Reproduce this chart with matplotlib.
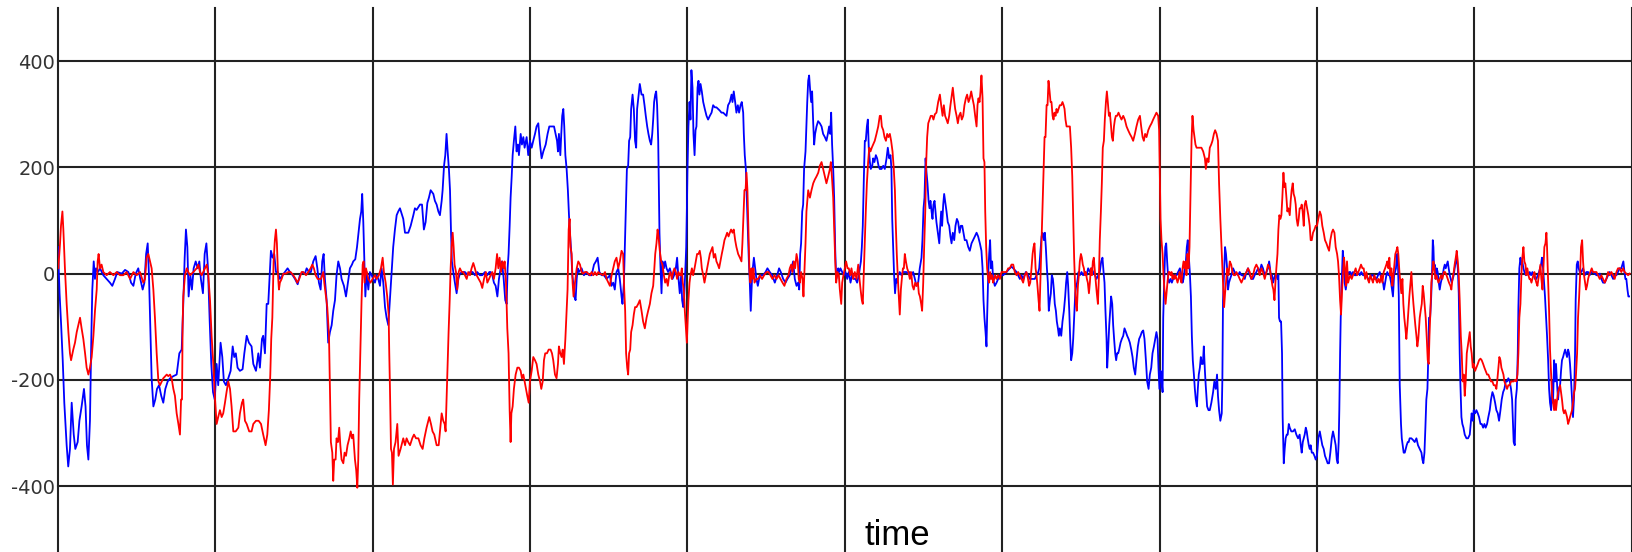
import matplotlib
matplotlib.use("Agg")
import matplotlib.pyplot as plt
import numpy as np

# (time, value) samples, one row group per grid cell
blue_pts = [
    (0, 50), (1, -37), (2, -97), (3, -163), (4, -243), (5.5, -323), (6.5, -363), (7.6, -330), (8.7, -243),
    (10, -303), (11, -330), (12.5, -317), (13.6, -277), (15, -250), (16.5, -217), (17.5, -250), (18.4, -323),
    (19.3, -350), (20.3, -277), (21.2, -117), (21.8, -30), (22.7, 23), (23.5, -10), (24.2, 10), (25.4, 3),
    (26.7, 10), (28.8, -3), (30.9, -10), (33, -17), (34.5, -23), (36.2, -10), (37.7, 3), (40.5, 0), (42.6, 7),
    (44.7, 3), (46.4, -17), (47.9, -23), (49.4, 0), (51, 10), (52.3, -10), (53.8, -30), (54.9, -17), (56, 37),
    (57, 57), (57.8, -3), (58.7, -110), (59.5, -197), (60.6, -250), (61.8, -237), (62.9, -217), (64.2, -210),
    (65.6, -230), (66.9, -243), (68.2, -217), (69.7, -203), (71.2, -197), (73.3, -193), (75.4, -190),
    (77.1, -150), (78.6, -143), (79.6, -57), (80.5, 30), (81.3, 83), (82.2, 50), (83, -43), (84.1, -3),
    (85.1, -30), (86.2, 10), (87.5, 23), (88.8, 10), (89.8, 23), (90.8, -10), (92.1, -37), (93.2, 37),
    (94.3, 57), (95.3, 10), (96.4, -90), (97.4, -170), (98.5, -223), (99.6, -237),
    (100.8, -170), (101.8, -210), (103.3, -130), (104.4, -157), (105.4, -203), (106.7, -210), (108.2, -197),
    (109.7, -183), (111, -137), (112, -157), (113, -150), (114.1, -177), (115.6, -183), (117.3, -180),
    (118.4, -150), (119.9, -117), (121.3, -130), (123, -137), (124.1, -170), (125.8, -183), (127.3, -150),
    (128.3, -177), (129.6, -123), (130.4, -117), (131.5, -150), (132.6, -57), (133.6, -57), (134.7, 10),
    (135.3, 43), (136.4, 30), (137.4, 37), (138.5, 3), (139.6, 3), (141, -10), (142.7, -3), (144.2, 3),
    (145.9, 10), (147.4, 3), (149.1, -3), (150.6, -10), (152.3, -20), (153.7, -3), (155.4, 3), (156.9, 0),
    (158, 10), (159.5, 3), (160.7, 3), (162.2, 23), (163.7, 33), (164.8, 10), (165.8, -17), (166.9, -30),
    (167.9, 23), (168.8, 37), (169.6, -10), (170.7, -50), (171.7, -130), (172.8, -110), (173.9, -97),
    (174.9, -70), (176, -50), (177, -3), (178.1, 23), (179.2, 10), (180.2, -10), (181.7, -23), (183, -43),
    (184.2, -17), (185.5, 10), (186.8, 17), (187.6, 23), (188.9, 27), (190, 50), (191, 77), (191.9, 103),
    (192.7, 117), (193.3, 150), (194, 97), (194.6, 30), (195.3, -43), (196.1, 3), (197.2, -30), (198.2, 3),
    (199.3, -3),
    (200.3, -10), (201.4, -17), (202.5, -3), (203.5, -10), (204.6, -23), (205.6, 10), (206.7, -17),
    (207.8, -63), (208.8, -83), (209.9, -97), (210.9, -50), (212, 3), (213, 50), (214.1, 83), (215.2, 110),
    (216.2, 117), (217.3, 123), (219.4, 103), (220.5, 77), (222.6, 77), (224.1, 90), (225.8, 110),
    (226.8, 123), (227.9, 120), (230, 130), (231.3, 130), (232.5, 83), (233.6, 97), (234.7, 133),
    (235.7, 143), (236.8, 157), (238.5, 150), (239.5, 137), (240.6, 130), (241.7, 117), (242.7, 110),
    (243.8, 137), (244.4, 157), (245.3, 203), (246.1, 223), (246.9, 263), (247.6, 230), (248.4, 197),
    (249.1, 157), (249.7, 83), (250.3, 23), (251.2, 3), (252.2, -17), (253.3, -37), (254.4, -10), (255.4, 0),
    (256.9, 3), (258.6, 3), (260.3, -3), (261.8, 3), (263.5, 3), (264.9, -3), (266.4, 3), (268.1, -3),
    (269.6, -3), (271.3, 3), (272.8, -3), (274.1, 3), (274.9, 3), (276, -3), (277, -17), (278.1, -23),
    (279.2, -43), (280.2, -10), (281.3, 10), (282.1, 23), (283.2, -10), (284.2, -50), (285.1, -57),
    (285.7, 10), (286.3, 37), (287, 90), (287.6, 143), (288.3, 183), (288.9, 223), (289.7, 250), (290.6, 277),
    (291.4, 230), (292.3, 243), (292.9, 223), (294, 263), (294.8, 243), (295.7, 257), (296.5, 237),
    (297.8, 257), (298.8, 223),
    (299.9, 250), (301, 237), (302, 250), (303.1, 263), (304.1, 277), (305.2, 283), (306.3, 243), (307.3, 217),
    (308.4, 230), (309.9, 243), (311.1, 263), (312.2, 277), (313.7, 277), (315.2, 277), (316.2, 263),
    (317.1, 250), (317.7, 230), (318.3, 263), (319.2, 223), (319.8, 263), (320.4, 297), (321.1, 310),
    (321.7, 277), (322.4, 223), (323.2, 197), (324, 157), (324.7, 110), (325.3, 77), (326.2, 37), (326.8, -3),
    (327.4, -17), (328.1, -43), (328.9, -50), (329.6, -10), (330.2, 10), (331, 3), (332.7, 10), (334.2, -3),
    (335.9, 3), (337.4, -3), (339.1, -3), (340.6, 17), (341.8, 23), (342.9, 30), (344, 3), (345.4, -3),
    (346.9, -3), (348.6, -10), (350.7, -3), (351.7, -23), (352.8, -17), (353.8, -30), (354.9, 3), (356, 10),
    (357, -10), (358.1, -43), (358.7, -57), (359.6, -17), (360.2, 50), (360.8, 117), (361.5, 197),
    (362.3, 203), (362.9, 250), (363.6, 257), (364.2, 310), (365.1, 337), (365.9, 310), (366.7, 250),
    (367.4, 237), (368, 310), (368.7, 330), (369.7, 357), (370.8, 337), (371.8, 337), (372.7, 317),
    (373.5, 297), (374.4, 277), (375.2, 263), (376.1, 250), (376.9, 243), (377.6, 263), (378.2, 290),
    (378.8, 323), (379.5, 337), (380.1, 343), (380.7, 317), (381.4, 250), (381.8, 163), (382.2, 77),
    (382.8, 17), (383.5, -37), (384.1, 23), (385, 10), (385.8, 23), (386.7, 10), (387.7, 3), (388.8, 10),
    (389.4, 3), (390.5, -10), (391.5, -3), (392.6, 10), (393.4, 30), (394.3, -10), (395.1, -37), (396, -3),
    (396.6, -50), (397.3, -63), (397.9, -43), (398.5, -3), (399.2, 50), (399.6, 117),
    (400, 197), (400.6, 277), (401.3, 323), (401.9, 290), (402.5, 383), (403.2, 350), (403.8, 263),
    (404.5, 223), (405.1, 270), (405.7, 277), (406.4, 350), (407, 363), (407.6, 337), (408.3, 357),
    (409.1, 343), (410, 323), (411, 310), (412.1, 297), (413.1, 290), (414.2, 297), (415.3, 303), (416.3, 317),
    (417.4, 313), (418.4, 313), (419.5, 310), (420.5, 307), (421.6, 303), (422.7, 303), (423.7, 300),
    (424.8, 297), (425.8, 317), (426.9, 323), (428, 337), (428.6, 323), (429.4, 343), (430.3, 323),
    (431.1, 303), (432, 317), (432.8, 303), (433.7, 317), (434.5, 323), (435.4, 303), (435.8, 263),
    (436.4, 223), (437.1, 197), (437.7, 143), (438.3, 83), (439, 23), (439.6, -17), (440.2, -70), (440.9, -17),
    (441.5, 10), (442.2, 30), (443, 10), (443.8, -10), (444.7, -23), (445.5, -10), (446.6, -3), (448.1, -3),
    (449.6, 3), (450.8, 10), (452.3, 3), (453.8, -3), (455.5, -17), (457, -3), (458.2, 10), (459.3, 3),
    (460.8, -10), (462.3, -17), (463.5, -10), (465, -3), (466.1, 10), (467.1, 23), (468.2, -10), (469.3, -23),
    (470.3, -17), (471, -30), (471.6, 37), (472.2, 57), (472.9, 117), (473.5, 130), (474.1, 197), (475, 230),
    (476.1, 323), (476.7, 363), (477.3, 373), (478, 343), (478.6, 323), (479.2, 343), (479.9, 283),
    (480.5, 243), (481.1, 263), (482, 277), (483, 287), (484.1, 283), (485.2, 277), (486.2, 263), (487.3, 257),
    (488.3, 250), (489.2, 263), (490, 277), (490.7, 263), (491.3, 303), (491.9, 243), (492.6, 197),
    (493.2, 143), (493.9, 43), (494.5, -10), (495.1, -3), (495.8, 10), (496.4, 3), (497.2, 10), (498.3, 3),
    (499.4, -3),
    (500.4, 3), (501.5, -10), (502.5, 3), (503.6, -17), (504.6, -3), (505.7, -10), (506.8, -10), (507.8, -17),
    (508.9, -3), (509.5, 10), (510.2, 23), (510.8, 50), (511.4, 90), (512.1, 183), (512.7, 250), (513.3, 250),
    (514, 277), (514.6, 290), (515.2, 237), (515.9, 210), (516.5, 197), (517.4, 203), (518, 217),
    (518.8, 210), (519.7, 223), (520.5, 217), (521.4, 203), (522.2, 197), (523.3, 197), (524.4, 203),
    (525.4, 197), (526.5, 217), (527.3, 237), (528.2, 217), (529, 223), (529.6, 197), (530.1, 103),
    (530.7, 50), (531.3, -3), (531.9, -37), (532.6, -10), (533.2, -17), (533.9, -3), (534.9, 3), (536, -3),
    (537, 3), (538.1, 3), (539.2, 3), (540.2, 0), (541.3, 3), (542.4, -3), (543.4, 3), (544.5, -10),
    (545.5, -23), (546.6, -17), (547.6, 10), (548.7, 30), (549.3, 63), (550, 123), (550.6, 143), (551.3, 217),
    (551.9, 190), (552.5, 170), (553.2, 137), (553.8, 123), (554.4, 137), (555.1, 117), (555.7, 103),
    (556.3, 130), (557, 137), (557.6, 117), (558.2, 97), (559.1, 77), (560, 57), (560.6, 90), (561.2, 117),
    (561.8, 90), (562.5, 130), (563.1, 150), (563.7, 137), (564.6, 117), (565.4, 97), (566.3, 90), (567.1, 70),
    (567.8, 57), (568.6, 77), (569.5, 63), (570.3, 90), (571.2, 103), (572, 97), (572.9, 77), (573.7, 90),
    (574.6, 90), (575.4, 77), (576.2, 63), (577.3, 63), (578.4, 50), (579.4, 43), (580.5, 57), (581.5, 63),
    (582.6, 70), (583.7, 77), (584.7, 70), (585.8, 57), (586.8, 43), (587.5, 10), (588.1, -50), (588.7, -83),
    (589.4, -110), (590, -137), (590.4, -83), (591.1, -3), (591.7, 37), (592.3, 63), (592.9, 10), (593.6, 23),
    (594.2, -10), (595.3, -23), (596.4, -17), (597.4, -10), (598.5, -3),
    (600.6, -3), (602.7, 3), (604.8, 10), (605.9, 13), (607, 10), (609.1, 3), (610.1, -3), (611.2, -10),
    (612.3, -3), (613.3, -10), (615, 3), (616.5, -3), (617.6, -10), (618.6, -10), (619.7, -10), (620.7, -10),
    (621.8, -3), (622.9, 3), (623.5, 10), (624.3, 43), (625, 70), (625.6, 77), (626.5, 63), (627.1, 77),
    (627.7, 50), (628.4, 10), (629, -17), (629.6, -70), (630.3, -50), (630.9, -37), (631.5, -3), (632.2, -10),
    (632.8, -30), (633.4, -57), (634.1, -70), (634.7, -90), (635.4, -103), (636, -117), (636.6, -103),
    (637.5, -117), (638.3, -90), (639.2, -70), (640, -43), (640.6, -17), (641.3, 3), (641.9, -23),
    (642.6, -70), (643.2, -123), (643.8, -163), (644.5, -150), (645.1, -123), (645.7, -83), (646.4, -37),
    (647, -23), (647.6, -17), (648.5, 3), (649.3, -3), (650.4, 3), (651.4, -3), (652.5, 3), (653.6, -3),
    (654.6, 10), (655.7, 3), (656.7, 10), (657.8, 3), (658.9, -3), (659.9, -10), (661, -3), (662, 3),
    (662.9, 23), (663.7, 30), (664.4, 3), (665, -17), (665.6, -70), (666.3, -123), (666.7, -177),
    (667.3, -143), (668, -97), (668.6, -70), (669.2, -43), (669.9, -57), (670.5, -97), (671.1, -123),
    (671.8, -150), (672.4, -163), (673, -150), (673.7, -150), (674.3, -143), (675.2, -130), (676, -123),
    (676.9, -117), (677.7, -103), (678.6, -110), (679.4, -117), (680.3, -123), (681.1, -130), (682, -143),
    (682.8, -157), (683.6, -177), (684.5, -190), (685.3, -163), (686.2, -137), (687, -123), (687.9, -117),
    (688.7, -110), (689.6, -107), (690.4, -123), (691.3, -163), (692.1, -203), (693, -217), (693.8, -190),
    (694.7, -177), (695.5, -150), (696.4, -137), (697.2, -123), (698, -110), (698.7, -123), (699.3, -177),
    (699.9, -217),
    (700.6, -183), (701.2, -197), (701.9, -223), (702.3, -83), (702.9, -17), (703.6, 50), (704.2, 57),
    (704.8, 23), (705.5, -10), (706.1, -17), (707, -10), (707.8, -17), (708.6, -10), (709.7, -3), (710.8, -3),
    (711.8, 3), (712.9, 10), (713.9, -3), (714.6, -17), (715.2, -10), (716, 10), (716.7, 23), (717.3, 50),
    (717.9, 63), (718.6, 30), (719.2, 3), (719.9, -43), (720.5, -117), (721.1, -163), (721.8, -190),
    (722.4, -217), (723, -237), (723.7, -250), (724.3, -217), (724.9, -190), (725.6, -177), (726.2, -157),
    (726.8, -170), (727.5, -170), (728.1, -137), (728.8, -183), (729.3, -210), (730.2, -250), (731.1, -257),
    (731.9, -257), (732.9, -243), (734, -223), (734.8, -203), (735.7, -217), (736.5, -190), (737.1, -230),
    (737.8, -257), (738.6, -277), (739.5, -263), (739.9, -197), (740.3, -50), (741, 3), (741.6, 50),
    (742.2, 37), (742.9, 10), (743.5, -30), (744.1, -17), (744.8, -10), (745.6, -3), (746.7, 10), (747.7, 3),
    (748.8, 0), (749.9, -3), (750.9, 3), (752, -3), (753, -3), (754.1, -10), (755.2, 3), (756.2, 10),
    (757.3, -3), (758.3, -10), (759.4, -10), (760.4, -3), (761.5, 3), (762.6, 10), (763.6, 3), (764.7, 17),
    (765.7, 10), (766.8, -3), (767.9, 3), (768.9, 10), (769.6, 23), (770.2, 10), (770.8, -10), (771.5, -3),
    (772.1, -17), (772.7, -10), (773.4, -3), (774.2, -3), (774.9, -10), (775.5, -3), (775.9, -83),
    (776.5, -90), (777.2, -90), (777.8, -150), (778.2, -270), (778.9, -357), (779.5, -330), (780.1, -310),
    (780.8, -303), (781.4, -303), (782.1, -283), (782.7, -290), (783.7, -297), (784.8, -297), (785.9, -293),
    (786.9, -303), (788, -310), (789, -303), (789.7, -323), (790.3, -337), (791, -317), (791.6, -310),
    (792.2, -303), (792.9, -290), (793.5, -297), (794.1, -310), (794.8, -323), (795.4, -330), (796, -323),
    (796.7, -337), (797.5, -337), (798.4, -343), (799.2, -350),
    (800, -343), (800.9, -310), (801.8, -297), (802.6, -310), (803.4, -323), (804.3, -330), (805.1, -343),
    (806, -350), (806.8, -357), (807.7, -357), (808.5, -337), (809.4, -310), (810.2, -297), (811.1, -310),
    (811.9, -323), (812.6, -350), (813.2, -357), (813.8, -317), (814.2, -257), (814.7, -150), (815.1, -83),
    (815.5, -37), (816, 10), (816.4, 43), (817, 23), (817.6, -17), (818.3, -30), (818.9, -17), (819.5, -3),
    (820.4, 3), (821.2, 3), (822.1, -3), (822.9, 3), (824, -3), (825.1, -3), (826.1, 3), (827.2, -3),
    (828.2, 3), (829.3, -3), (830.3, -3), (831.4, -3), (832.5, -10), (833.5, -10), (834.6, -3), (835.6, -3),
    (836.7, -10), (837.8, -10), (838.8, -3), (839.9, 3), (840.9, -10), (842, -17), (842.6, -30), (843.3, -17),
    (844.1, -3), (844.7, 3), (845.4, -3), (846.2, -3), (847.1, -17), (847.7, -30), (848.3, -43), (849, -3),
    (849.6, 3), (850.2, 10), (850.9, 37), (851.3, 37), (852, -43), (852.6, -210), (853.4, -283), (853.9, -310),
    (854.5, -323), (855.1, -337), (855.8, -337), (856.4, -330), (857, -323), (857.7, -317), (858.3, -317),
    (858.9, -310), (860, -310), (861, -313), (862.1, -317), (863.2, -310), (864.2, -323), (865.3, -330),
    (866.4, -337), (867, -350), (867.6, -357), (868.3, -337), (868.9, -290), (869.5, -237), (870.2, -217),
    (870.8, -150), (871.2, -83), (871.9, -83), (872.5, -50), (873.1, -3), (873.6, 63), (874, 50), (874.4, 10),
    (874.8, 17), (875.5, -10), (876.1, 10), (876.7, 3), (877.4, -17), (878, -30), (878.7, -17), (879.3, -10),
    (879.9, -3), (880.6, 10), (881.2, 17), (881.8, 10), (882.5, 17), (883.1, 23), (883.7, 10), (884.4, -3),
    (885, -10), (885.6, -17), (886.3, -10), (886.9, -3), (887.5, 10), (888.2, 23), (888.8, 30), (889.5, 10),
    (890.1, -37), (890.7, -150), (891.1, -203), (891.8, -270), (892.4, -283), (893.1, -290), (893.9, -303),
    (895, -310), (896, -310), (897.1, -303), (897.7, -283), (898.3, -263), (899, -277), (899.6, -257),
    (900.5, -263), (901.3, -257), (902.2, -263), (903, -270), (903.9, -283), (904.7, -283), (905.6, -290),
    (906.4, -283), (907.2, -290), (908.1, -283), (908.9, -270), (909.8, -257), (910.6, -237), (911.5, -223),
    (912.3, -230), (913.2, -243), (914, -257), (914.9, -263), (915.7, -277), (916.6, -257), (917.4, -237),
    (918.3, -223), (919.1, -217), (920, -203), (920.8, -203), (921.6, -197), (922.5, -203), (923.3, -217),
    (924, -237), (924.6, -283), (925, -317), (925.7, -323), (926.3, -237), (927, -217), (927.6, -150),
    (928, -63), (928.6, 10), (929.3, 30), (929.9, 17), (930.5, 23), (931.2, 10), (931.8, 3), (932.7, -3),
    (933.5, 3), (934.4, -3), (935.2, 3), (936.1, -3), (936.9, 3), (937.7, -3), (938.6, -10), (939.4, -10),
    (940.3, -3), (941.1, 3), (941.8, 10), (942.4, 17), (943, 30), (943.7, 10), (944.3, -17), (944.9, -43),
    (945.6, -83), (946.2, -117), (946.9, -163), (947.5, -217), (948.1, -243), (948.8, -257), (949.4, -203),
    (950, -243), (950.7, -163), (951.3, -203), (951.9, -170), (952.6, -210), (953.2, -237), (953.8, -217),
    (954.5, -210), (955.1, -183), (955.7, -163), (956.4, -157), (957, -150), (957.7, -143), (958.3, -150),
    (958.9, -157), (959.6, -143), (960.2, -150), (960.8, -170), (961.5, -203), (962.1, -237), (962.7, -270),
    (963.4, -230), (964, -150), (964.4, -50), (965.1, 17), (965.7, 23), (966.3, 10), (967, 3), (968, 3),
    (969.1, 10), (970.2, -3), (971.2, 3), (972.3, 3), (973.3, -3), (974.4, 3), (975.4, 3), (976.5, 0),
    (977.6, -3), (978.6, -3), (979.7, 0), (980.7, -10), (981.8, -17), (982.9, -17), (983.9, -10), (985, -3),
    (986, 3), (987.1, -3), (988.2, -10), (989.2, -3), (990.3, -3), (991.3, 3), (992.4, 10), (993.4, 10),
    (994.1, 17), (994.7, 23), (995.4, 3), (996, -10), (996.6, -10), (997.3, -30), (997.9, -43), (998.3, -43),
]

red_pts = [
    (0.2, 10), (1.3, 57), (1.9, 90), (2.8, 117), (3.4, 83), (4.4, 10), (5.5, -57), (6.6, -110), (7.6, -150),
    (8.3, -163), (9.7, -143), (10.8, -130), (11.9, -110), (12.9, -97), (14, -83), (15, -103), (16.1, -123),
    (17.2, -150), (18.2, -177), (19.3, -190), (20.3, -177), (21.4, -157), (22.5, -117), (23.5, -70),
    (24.6, -30), (25.2, 23), (25.8, 37), (26.7, 10), (27.7, 17), (28.8, 3), (30.9, -3), (33, 3), (35.2, -3),
    (37.3, 3), (39.4, -3), (41.5, -3), (43.6, 3), (45.8, -10), (47.9, 3), (50, -3), (52.1, 3), (54.2, -17),
    (55.3, -10), (56.3, 30), (57.4, 37), (58.5, 23), (59.5, 10), (60.6, -30), (61.6, -83), (62.7, -150),
    (63.8, -203), (64.8, -210), (65.9, -203), (66.9, -197), (69.1, -190), (70.1, -193), (71.2, -190),
    (72.2, -197), (73.3, -217), (74.3, -230), (75.4, -263), (76.5, -283), (77.5, -303), (78.2, -237),
    (78.8, -237), (79.2, -97), (79.6, -43), (80.7, -3), (81.8, 10), (82.8, 3), (83.9, -3), (86, 3), (88.1, 10),
    (89.2, 17), (90.2, 3), (91.3, -3), (92.3, 3), (93.4, 10), (94.5, 17), (95.5, -3), (96.6, -50),
    (97.6, -117), (98.7, -170), (99.8, -237),
    (100.8, -283), (101.8, -270), (102.9, -257), (104, -270), (105, -263), (106.1, -243), (107.1, -223),
    (108.2, -203), (109.3, -217), (110.3, -250), (111.4, -297), (112.9, -297), (114.6, -290), (115.6, -263),
    (116.9, -243), (117.7, -237), (118.8, -277), (119.9, -283), (121.5, -297), (123, -297), (124.1, -283),
    (125.8, -277), (127.5, -277), (129, -283), (130.4, -303), (131.9, -323), (133, -303), (134, -257),
    (134.9, -190), (135.5, -123), (136.2, -83), (137, 23), (137.8, 63), (138.5, 83), (139.1, 57), (139.8, -3),
    (140.4, -30), (141, -17), (142.1, -10), (143.2, 0), (144.8, 0), (146.3, 3), (147.8, 3), (149.5, -3),
    (151, -10), (152, -17), (153.3, -10), (154.8, 3), (155.9, 3), (157.6, -3), (159, 3), (160.5, 10),
    (161.6, 17), (162.6, 10), (163.7, -3), (165, -10), (166, -10), (167.1, -10), (168.6, 3), (169.2, -17),
    (170, -37), (171.1, -63), (172.2, -117), (172.8, -223), (173.4, -317), (174.3, -337), (174.9, -390),
    (175.5, -350), (176.4, -350), (177, -310), (177.9, -317), (178.7, -290), (179.4, -323), (180.2, -350),
    (181.3, -357), (182.1, -337), (183, -343), (184, -323), (185.1, -310), (186, -297), (186.8, -310),
    (187.6, -303), (188.7, -350), (189.5, -370), (190.2, -403), (190.8, -350), (191.4, -237), (192.3, -123),
    (192.9, -50), (193.6, 17), (194.2, 23), (194.8, -17), (195.7, 10), (197.2, -10), (198.6, -17),
    (199.9, -10),
    (201.4, -3), (202.5, -10), (203.9, -3), (205.2, 10), (206.3, 30), (207.1, 3), (208.2, -17), (209.2, -43),
    (210.1, -77), (210.5, -150), (210.9, -210), (211.6, -330), (212.2, -337), (212.8, -397), (213.5, -330),
    (214.5, -317), (215.6, -283), (216.4, -343), (217.7, -330), (219.4, -310), (220.5, -323), (221.5, -310),
    (222.5, -317), (223.7, -323), (225.1, -310), (226.2, -303), (227.5, -310), (229, -310), (230.4, -323),
    (231.7, -330), (232.8, -310), (234.2, -290), (235.9, -270), (237, -283), (238, -297), (239.1, -303),
    (240.6, -323), (241.9, -323), (242.7, -297), (243.8, -263), (244.8, -277), (245.7, -283), (246.3, -297),
    (246.9, -237), (247.6, -163), (248.2, -110), (248.9, -50), (249.5, 10), (250.1, 50), (250.8, 77),
    (251.4, 50), (252, 17), (252.9, 3), (253.7, -30), (254.6, 3), (255.4, 10), (256.5, 3), (257.5, 3),
    (258.6, -3), (259.7, -10), (260.7, 3), (261.8, -3), (262.8, 10), (263.9, 20), (264.9, 10), (266, -3),
    (267.3, -10), (268.6, -17), (269.6, -27), (270.7, -10), (271.9, 3), (272.8, -17), (273.9, -10),
    (274.9, -3), (276, 3), (277, -10), (278.1, 10), (279, 37), (279.8, 10), (280.6, 30), (281.5, 3),
    (282.3, 23), (283.2, 10), (283.8, 23), (284.7, -17), (285.5, -103), (286.3, -150), (287, -257),
    (287.6, -317), (288.1, -263), (288.9, -250), (289.7, -217), (290.8, -190), (291.9, -177), (292.9, -177),
    (294, -183), (294.8, -197), (295.7, -190), (296.5, -203), (297.4, -217), (298.2, -230), (299.1, -243),
    (299.9, -203), (301, -183), (302, -157), (303.1, -163), (304.1, -170), (305.2, -190), (306.3, -203),
    (307.1, -217), (308, -203), (308.8, -163), (309.6, -150), (310.7, -150), (311.8, -143), (313, -143),
    (313.9, -150), (314.7, -163), (315.8, -190), (316.8, -197), (317.7, -170), (318.3, -137), (319.2, -150),
    (320, -157), (320.7, -143), (321.5, -170), (322.4, -123), (323.2, -70), (323.8, -30), (324.5, 83),
    (325.1, 103), (325.7, 50), (326.4, 37), (327, -17), (327.6, -43), (328.5, -17), (329.6, 10), (330.6, 23),
    (331.7, 17), (332.7, 3), (333.8, 0), (334.8, 3), (335.9, 3), (336.9, 0), (338, -3), (339.1, 3),
    (340.1, -3), (341.2, 3), (342.3, -3), (343.3, 3), (344.4, 0), (346.5, -3), (347.6, 3), (348.6, -10),
    (349.7, -17), (350.7, -23), (351.8, -3), (352.8, 10), (353.8, 23), (354.9, 30), (356, 10), (357, 23),
    (358.1, 43), (359.1, 37), (359.8, -30), (360.4, -70), (361, -150), (361.7, -177), (362.3, -190),
    (362.9, -150), (363.6, -143), (364.2, -110), (365.1, -97), (365.9, -77), (366.7, -63), (367.6, -63),
    (368.7, -57), (369.7, -50), (370.8, -70), (371.8, -90), (372.9, -103), (374, -83), (375, -70),
    (376.1, -57), (377.1, -37), (378.2, -23), (378.8, 3), (379.5, 37), (380.3, 57), (381, 83), (381.6, 70),
    (382.4, 43), (383.3, 23), (384.1, 17), (385, -3), (385.8, -17), (386.7, -10), (387.5, -23), (388.4, -3),
    (389.2, 3), (390, -10), (390.9, 3), (391.7, 10), (392.6, 3), (393.4, -10), (394.3, 3), (395.1, -3),
    (395.8, -3), (396.4, 10), (397, -17), (397.7, -30), (398.3, -70), (399, -103), (399.6, -130),
    (400, -97), (400.6, -50), (401.3, -17), (401.9, -3), (402.8, 10), (403.6, -3), (404.5, 10), (405.3, 23),
    (406.1, 37), (407, 37), (407.8, 43), (408.5, 30), (409.1, 10), (410, -3), (410.8, -17), (411.7, -3),
    (412.5, 10), (413.4, 23), (414.2, 37), (415, 43), (415.9, 50), (416.7, 30), (417.6, 37), (418.4, 23),
    (419.3, 17), (420.1, 10), (420.9, 23), (421.8, 37), (422.7, 50), (423.5, 63), (424.4, 70), (425.2, 77),
    (426.1, 70), (426.9, 77), (427.7, 83), (428.6, 77), (429.4, 83), (430.3, 63), (431.1, 50), (432.2, 37),
    (433.3, 30), (434.3, 23), (434.9, 57), (435.6, 110), (436.2, 157), (436.9, 157), (437.5, 190),
    (438.1, 157), (438.8, 77), (439.4, 3), (440, -17), (440.7, 10), (441.3, -10), (441.9, 10), (442.6, -17),
    (443.8, -10), (444.9, -10), (446, -3), (447.4, -10), (448.7, -3), (450.2, 3), (451.5, 3), (452.7, -3),
    (454, -10), (455.3, -3), (456.6, -10), (457.8, -3), (459.1, -10), (460.4, -17), (461.6, -23),
    (462.9, -10), (464.2, -3), (465, 10), (465.9, 17), (466.7, 3), (467.6, 23), (468.4, 10), (469.3, 37),
    (470.1, 23), (470.7, -10), (471.4, -17), (472.2, 3), (473.1, -10), (473.7, -43), (474.3, 3), (475, 57),
    (475.6, 117), (476.7, 157), (477.8, 143), (478.8, 157), (479.9, 170), (480.9, 177), (482, 183),
    (483.1, 190), (484.1, 203), (485.2, 210), (486.2, 197), (487.3, 183), (488.3, 170), (489.4, 183),
    (490.5, 197), (491.1, 210), (491.9, 177), (492.6, 143), (493.2, 90), (493.9, 23), (494.5, -17),
    (495.3, 3), (496.2, -3), (496.8, -30), (497.7, -57), (498.3, -17), (499.1, -3),
    (500, 10), (500.8, 23), (501.7, 10), (502.5, 10), (503.4, -3), (504.2, 10), (505.3, -10), (506.3, 3),
    (507.4, -10), (508.5, 17), (509.3, -10), (510, -30), (510.8, -50), (511.4, -57), (512.1, 10), (512.7, 63),
    (513.3, 117), (514, 170), (514.8, 210), (515.5, 237), (516.3, 230), (517.1, 237), (518, 243), (519, 250),
    (520.1, 263), (521.2, 277), (522.2, 297), (522.9, 297), (523.5, 277), (524.4, 270), (525.2, 257),
    (526.1, 250), (526.9, 263), (527.7, 257), (528.6, 263), (529.4, 250), (530.3, 230), (531.1, 197),
    (531.8, 157), (532.4, 90), (533, 37), (533.7, -10), (534.3, -43), (534.9, -77), (535.6, -30),
    (536.2, -10), (536.9, 10), (537.5, 10), (538.1, 37), (538.8, 23), (539.6, 10), (540.4, 3), (541.3, -10),
    (542.1, 3), (543, -23), (543.8, -30), (544.7, -17), (545.5, -23), (546.4, -17), (547, -37), (547.7, -43),
    (548.5, -57), (549.1, -70), (549.8, -17), (550.4, 50), (551.1, 117), (551.7, 210), (552.3, 257),
    (553, 283), (553.8, 290), (554.6, 297), (555.5, 297), (556.3, 290), (557.2, 300), (558.2, 303),
    (559.3, 323), (560.4, 337), (561.2, 317), (562.1, 297), (562.9, 317), (563.7, 297), (564.6, 290),
    (565.4, 283), (566.3, 297), (567.1, 317), (568, 337), (568.6, 350), (569.3, 330), (570.1, 310),
    (571, 297), (571.8, 283), (572.6, 297), (573.5, 303), (574.3, 290), (575.2, 297), (576, 317), (576.9, 330),
    (577.7, 337), (578.6, 323), (579.4, 330), (580.3, 343), (581.1, 330), (582, 317), (582.8, 297),
    (583.7, 277), (584.3, 317), (584.9, 330), (585.6, 323), (586.2, 343), (586.8, 373), (587.5, 330),
    (588.1, 217), (588.7, 210), (589.2, 117), (589.8, 50), (590.4, 10), (591.1, -10), (591.7, -17),
    (592.3, 3), (592.9, -10), (593.6, -3), (594.2, -17), (594.9, -10), (595.5, -3), (596.4, -10), (597.4, -3),
    (598.5, -10), (599.5, 3),
    (600.6, 3), (601.7, 3), (602.7, 3), (603.8, 10), (604.8, 10), (605.9, 17), (607, 17), (608, 3),
    (609.1, -3), (610.1, 3), (611.2, -3), (612.3, -10), (613.3, -17), (614.3, -3), (615.4, 3), (616.4, -10),
    (617.1, -23), (617.8, -17), (618.6, 10), (619.3, 37), (619.9, 50), (620.5, 57), (621.2, 10), (621.8, -3),
    (622.4, -23), (623.1, -50), (623.7, -70), (624.3, -10), (625, 57), (625.6, 117), (626.2, 177),
    (626.9, 257), (627.5, 257), (628.2, 317), (628.8, 317), (629.4, 363), (630.1, 343), (630.7, 323),
    (631.3, 323), (632, 297), (632.6, 290), (633.2, 303), (633.9, 297), (634.5, 310), (635.1, 303),
    (635.8, 310), (636.6, 317), (637.5, 317), (638.3, 323), (639, 317), (639.6, 310), (640.2, 290),
    (640.9, 277), (641.5, 277), (642.1, 277), (643, 277), (643.8, 237), (644.5, 183), (645.1, 103),
    (645.7, 30), (646.4, -30), (646.8, -57), (647.4, -70), (648.1, -23), (648.7, -3), (649.3, 23), (650, 37),
    (650.6, 30), (651.2, 17), (651.9, 10), (652.5, -3), (653.1, 3), (653.8, -10), (654.4, -17), (655.1, -37),
    (655.7, -17), (656.3, 10), (657, -3), (657.6, 23), (658.2, 30), (658.9, 3), (659.5, -17), (660.1, -37),
    (660.8, -57), (661.4, -10), (662, 63), (662.7, 117), (663.3, 170), (663.9, 237), (664.6, 250),
    (665.2, 290), (665.9, 323), (666.5, 343), (667.1, 323), (667.8, 297), (668.4, 303), (669, 283),
    (669.7, 257), (670.3, 250), (671, 277), (671.6, 290), (672.2, 297), (673, 297), (673.9, 303), (674.7, 297),
    (675.8, 290), (676.9, 297), (677.9, 290), (679, 277), (680, 270), (681.1, 263), (682.2, 257), (683.2, 250),
    (684.3, 263), (685.3, 277), (686.4, 290), (687.5, 297), (688.3, 277), (689.2, 257), (690, 250),
    (690.8, 263), (691.7, 257), (692.8, 270), (693.8, 277), (694.9, 283), (695.9, 290), (697, 297),
    (698, 303), (699.1, 297), (699.7, 270),
    (700.2, 177), (700.6, 103), (701.2, 63), (701.9, 37), (702.5, -3), (703.1, -30), (703.8, -57),
    (704.4, -37), (705, -17), (705.7, 3), (706.3, 3), (707, -3), (707.6, 3), (708.2, -10), (708.8, -3),
    (709.5, -10), (710.1, -3), (710.8, -10), (711.4, -17), (712, -10), (712.7, 3), (713.3, -10), (713.9, -17),
    (714.6, 10), (715.2, 23), (715.8, 10), (716.5, 23), (717.1, -3), (717.7, 37), (718.4, 10), (719, 50),
    (719.6, 143), (720.3, 250), (720.9, 297), (721.6, 270), (722.2, 257), (722.8, 243), (723.5, 237),
    (724.5, 237), (725.6, 237), (726.6, 237), (727.7, 230), (728.8, 217), (729.4, 197), (730.2, 217),
    (731.1, 210), (731.9, 237), (732.8, 243), (733.6, 250), (734.5, 263), (735.3, 270), (736.2, 263),
    (737.1, 250), (737.8, 170), (738.6, 103), (739.5, 37), (740.3, -17), (741, -63), (741.6, -37),
    (742.2, -17), (742.9, 10), (743.8, -3), (744.6, 23), (745.5, 17), (746.3, 3), (747.2, -3), (748, -3),
    (748.8, 3), (749.9, -3), (750.9, -10), (752, -17), (753, -10), (754.1, -3), (755.2, 3), (756.2, 10),
    (757.3, 3), (758.3, -10), (759.4, -3), (760.4, 10), (761.5, 17), (762.6, 10), (763.6, -3), (764.7, 10),
    (765.7, 3), (766.8, -10), (767.9, 3), (768.9, 17), (770, 10), (771, -10), (771.7, -23), (772.3, -30),
    (773, -50), (773.6, -17), (774.2, 10), (774.9, 37), (775.5, 83), (776.1, 110), (776.8, 103), (777.4, 110),
    (778, 143), (778.7, 190), (779.3, 163), (779.9, 170), (780.6, 143), (781.2, 117), (781.8, 123),
    (782.7, 110), (783.3, 137), (783.9, 157), (784.6, 170), (785.2, 150), (785.9, 143), (786.5, 130),
    (787.1, 103), (787.8, 90), (788.4, 103), (789, 123), (789.7, 123), (790.3, 130), (790.9, 117), (791.6, 90),
    (792.2, 130), (792.9, 137), (793.7, 123), (794.5, 110), (795.4, 90), (796, 63), (796.7, 63), (797.5, 77),
    (798.4, 83), (799.2, 90),
    (800, 90), (800.9, 103), (801.8, 117), (802.6, 110), (803.4, 90), (804.3, 77), (805.1, 63), (806, 57),
    (806.8, 50), (807.7, 43), (808.5, 63), (809.4, 77), (810.2, 83), (811.1, 77), (811.9, 50), (812.8, 37),
    (813.4, 23), (814, -3), (814.7, -50), (815.3, -77), (816, -30), (816.6, 3), (817.2, 30), (817.8, 10),
    (818.5, -23), (819.1, 23), (819.8, -17), (820.4, -10), (821.2, -3), (822.1, -10), (822.9, -3), (823.8, 3),
    (824.6, 10), (825.5, -3), (826.3, 3), (827.2, 10), (828, 17), (828.9, 10), (829.7, 10), (830.6, -10),
    (831.4, 3), (832.2, -10), (833.1, -17), (833.9, -3), (834.8, -10), (835.6, -17), (836.5, -3), (837.3, -10),
    (838.2, -17), (839, -10), (839.9, -17), (840.9, -3), (841.6, -17), (842.4, 3), (843.3, 10), (844.1, 17),
    (844.7, 23), (845.4, 10), (846, 30), (846.6, -3), (847.3, 10), (847.9, -23), (848.6, -3), (849.2, 17),
    (849.8, 37), (850.5, 43), (851.1, 50), (851.7, 37), (852.4, 3), (853, -17), (853.6, -37), (854.3, -10),
    (854.9, -57), (855.5, -83), (856.2, -103), (856.8, -123), (857.5, -97), (858.1, -70), (858.7, -43),
    (859.4, -17), (860, 3), (860.6, -30), (861.3, -57), (861.9, -77), (862.5, -97), (863.2, -117),
    (863.8, -137), (864.4, -123), (865.3, -83), (865.9, -70), (866.6, -57), (867.2, -23), (867.8, -37),
    (868.5, -63), (869.1, -83), (869.8, -123), (870.4, -163), (871, -170), (871.5, -117), (872.1, -70),
    (872.7, -17), (873.4, 3), (874, 23), (874.6, 10), (875.3, -10), (875.9, -3), (876.5, -10), (877.2, -17),
    (878, -10), (878.9, -3), (879.7, -10), (880.6, 3), (881.4, 3), (882.3, -3), (883.1, -10), (883.9, -17),
    (884.8, -23), (885.4, -30), (886.1, -10), (886.9, 3), (887.5, 17), (888.2, 30), (888.8, 43), (889.5, 23),
    (890.1, -3), (890.7, -50), (891.4, -117), (892, -150), (892.6, -203), (893.3, -190), (893.9, -230),
    (894.5, -203), (895.2, -150), (895.8, -137), (896.4, -123), (897.1, -110), (897.7, -137), (898.3, -150),
    (899, -177), (899.6, -170),
    (900.5, -183), (901.3, -177), (902.2, -170), (903, -163), (903.9, -160), (904.7, -163), (905.6, -170),
    (906.4, -177), (907.2, -183), (908.1, -190), (908.9, -190), (909.8, -197), (910.6, -203), (911.5, -203),
    (912.3, -210), (913.2, -210), (914, -217), (914.7, -197), (915.3, -177), (915.9, -157), (916.6, -163),
    (917.2, -177), (917.8, -183), (918.5, -190), (919.1, -203), (920, -210), (920.8, -217), (921.6, -210),
    (922.5, -210), (923.3, -203), (924.2, -203), (925, -203), (925.9, -200), (926.7, -203), (927.4, -190),
    (928, -150), (928.6, -83), (929.3, -57), (929.9, -3), (930.5, 30), (931.2, 50), (931.8, 23), (932.5, 17),
    (933.1, -3), (933.7, 10), (934.4, -3), (935, -10), (935.6, -10), (936.3, -17), (936.9, -10), (937.5, -3),
    (938.2, 3), (938.8, -10), (939.4, -17), (940.1, -23), (940.7, -10), (941.3, 3), (942, 17), (942.6, -10),
    (943.3, -30), (943.9, 10), (944.5, 50), (945.2, 57), (945.8, 77), (946.2, 50), (946.9, -17), (947.5, -70),
    (948.1, -143), (948.8, -190), (949.4, -230), (950, -243), (950.7, -257), (951.3, -237), (951.9, -257),
    (952.6, -237), (953.2, -223), (953.8, -217), (954.5, -210), (955.1, -223), (955.7, -237), (956.4, -257),
    (957, -263), (957.7, -257), (958.3, -263), (958.9, -270), (959.6, -283), (960.2, -277), (960.8, -270),
    (961.5, -263), (962.1, -257), (962.7, -243), (963.4, -223), (964, -217), (964.6, -190), (965.3, -150),
    (965.9, -83), (966.6, -43), (967.2, -3), (967.8, 50), (968.5, 63), (969.1, 23), (969.7, -3), (970.4, -17),
    (971, -30), (971.6, -23), (972.3, -10), (972.9, -3), (973.7, 3), (974.6, 10), (975.4, 3), (976.5, 3),
    (977.6, 3), (978.6, -3), (979.7, -10), (980.7, -3), (981.8, -10), (982.9, -17), (983.9, -10), (985, 3),
    (986, -3), (987.1, 3), (988.2, -3), (989.2, -10), (990.3, 3), (991.3, 10), (992.4, 10), (993.4, 3),
    (994.5, 10), (995.5, 3), (996.6, 0), (997.7, -3), (998.7, 0),
]

y_ticks = [-400, -200, 0, 200, 400]
x_ticks = list(range(0, 1001, 100))

plt.rcParams["axes.unicode_minus"] = False

fig = plt.figure(figsize=(16.33, 5.52), dpi=100)
ax = fig.add_axes([58 / 1633, 0.0, 1573.7 / 1633, 544 / 552])

tb, vb = np.array(blue_pts).T
tr, vr = np.array(red_pts).T
ax.plot(tb, vb, color="#0000ff", lw=1.3, zorder=3)
ax.plot(tr, vr, color="#ff0000", lw=1.3, zorder=4)

ax.set_xlim(0, 1000)
ax.set_ylim(-524, 500)
ax.set_xticks(x_ticks)
ax.set_yticks(y_ticks)
ax.set_yticklabels([str(v) for v in y_ticks])
ax.tick_params(axis="x", length=0, labelbottom=False)
ax.tick_params(axis="y", length=0, pad=2, labelsize=14, labelcolor="#333333")
for s in ax.spines.values():
    s.set_visible(False)

ax.grid(True, color="#222222", lw=1.5, zorder=1)
for gl in ax.get_xgridlines() + ax.get_ygridlines():
    gl.set_clip_on(False)

ax.set_xlabel("time", fontsize=25, family="Liberation Sans", color="black")
ax.xaxis.set_label_coords((897.5 - 58) / 1573.7, 7 / 544)
ax.xaxis.label.set_va("baseline")

fig.savefig("out.png", dpi=100)
